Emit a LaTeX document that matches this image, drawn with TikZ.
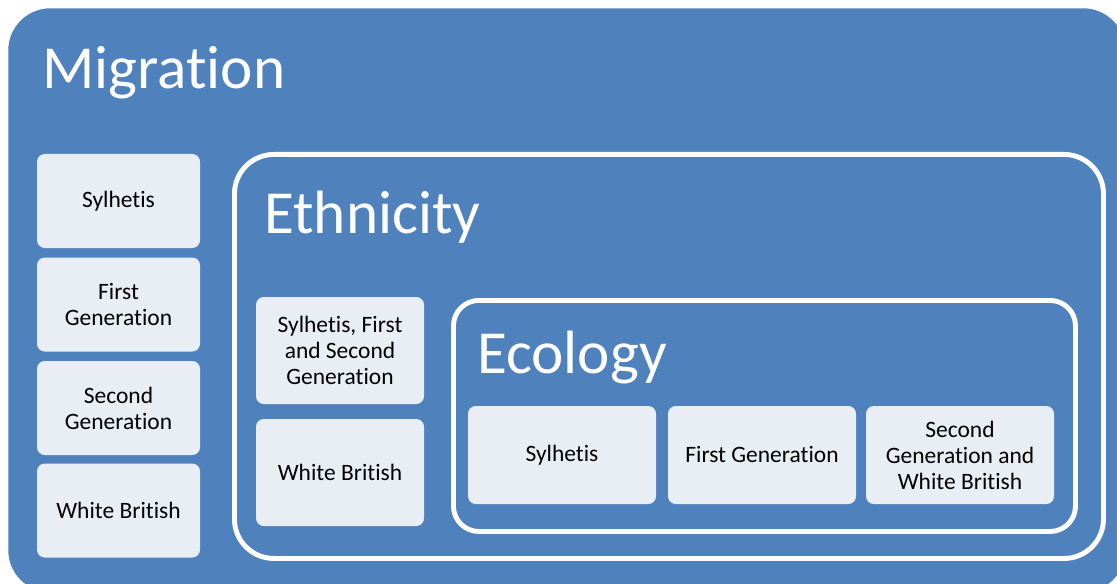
\documentclass[tikz,border=0pt]{standalone}
\usepackage{fontspec}
\setmainfont{Carlito}[Ligatures=NoCommon]

\definecolor{migblue}{RGB}{79,129,189}
\definecolor{itemfill}{RGB}{233,237,244}
\newcommand{\px}{0.025cm}

\tikzset{
    itembox/.style={fill=itemfill, rounded corners=5.5pt, inner sep=0pt, align=center,
        text=black, font=\fontsize{16.7}{18.5}\selectfont},
    groupbox/.style={draw=white, line width=3.5pt, inner sep=0pt},
    grouptitle/.style={anchor=base west, inner sep=0pt, text=white,
        font=\fontsize{43.5}{50}\selectfont}
}

\begin{document}
\begin{tikzpicture}[x=\px, y=-\px]
    % page and outer blue panel
    \useasboundingbox (0,0) rectangle (1117,584);
    \clip (0,0) rectangle (1117,584);
    \fill[white] (0,0) rectangle (1117,584);
    \node[fill=migblue, rounded corners=30pt, inner sep=0pt, minimum width=1117*\px,
        minimum height=584*\px, anchor=north west] (mig) at (8,8) {};
    \node[grouptitle] (migTitle) at (42,89) {Migration};

    % left column
    \node[itembox, minimum width=163*\px, minimum height=94*\px] (migSyl) at (118.5,201) {Sylhetis};
    \node[itembox, minimum width=163*\px, minimum height=94*\px] (migFirst) at (118.5,304.5) {First\\Generation};
    \node[itembox, minimum width=163*\px, minimum height=94*\px] (migSecond) at (118.5,408) {Second\\Generation};
    \node[itembox, minimum width=163*\px, minimum height=94*\px] (migWhite) at (118.5,510.5) {White British};

    % ethnicity group
    \node[groupbox, rounded corners=28pt, minimum width=869*\px, minimum height=404*\px,
        anchor=north west] (eth) at (232,152) {};
    \node[grouptitle] (ethTitle) at (264,233) {Ethnicity};
    \node[itembox, minimum width=168*\px, minimum height=107*\px] (ethSyl) at (340,350.5) {Sylhetis, First\\and Second\\Generation};
    \node[itembox, minimum width=168*\px, minimum height=107*\px] (ethWhite) at (340,472.5) {White British};

    % ecology group
    \node[groupbox, rounded corners=18pt, minimum width=622*\px, minimum height=231*\px,
        anchor=north west] (eco) at (451,298) {};
    \node[grouptitle] (ecoTitle) at (477,373) {Ecology};
    \node[itembox, minimum width=188*\px, minimum height=98*\px] (ecoSyl) at (562,455) {Sylhetis};
    \node[itembox, minimum width=188*\px, minimum height=98*\px] (ecoFirst) at (762,455) {First Generation};
    \node[itembox, minimum width=188*\px, minimum height=98*\px] (ecoSecond) at (960,455) {Second\\Generation and\\White British};
\end{tikzpicture}
\end{document}
